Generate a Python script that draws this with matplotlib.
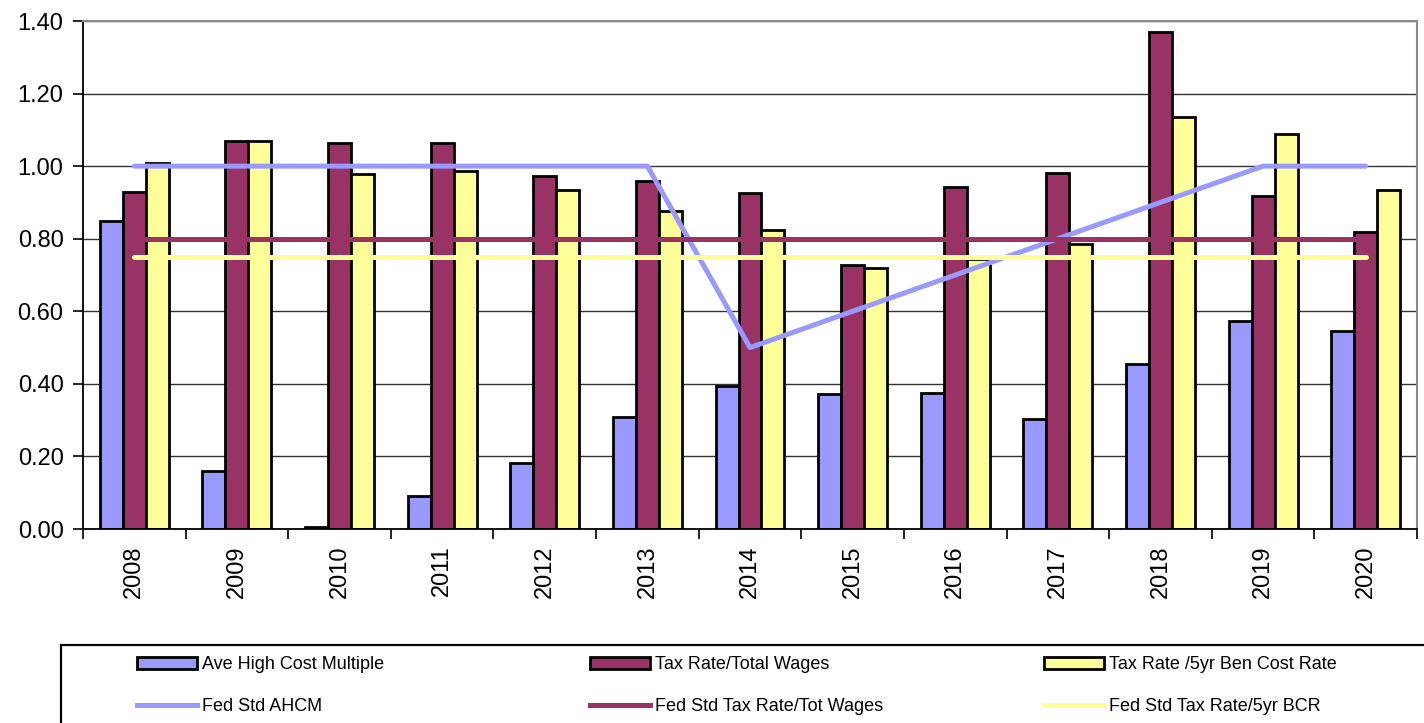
import matplotlib
matplotlib.use("Agg")
import matplotlib.pyplot as plt
import numpy as np
from matplotlib.patches import Rectangle, Patch
from matplotlib.lines import Line2D

years = ["2008", "2009", "2010", "2011", "2012", "2013", "2014",
         "2015", "2016", "2017", "2018", "2019", "2020"]
ahcm = [0.85, 0.16, 0.005, 0.092, 0.182, 0.309, 0.394, 0.372, 0.376, 0.303, 0.455, 0.573, 0.546]
tax_total_wages = [0.929, 1.068, 1.064, 1.064, 0.973, 0.959, 0.926, 0.727, 0.942, 0.981, 1.37, 0.918, 0.818]
tax_5yr_bcr = [1.01, 1.068, 0.977, 0.987, 0.934, 0.876, 0.824, 0.719, 0.744, 0.785, 1.135, 1.088, 0.934]
fed_ahcm = [1.0, 1.0, 1.0, 1.0, 1.0, 1.0, 0.5, 0.6, 0.7, 0.8, 0.9, 1.0, 1.0]
fed_tax_wages = [0.8] * 13
fed_tax_bcr = [0.75] * 13

bar_labels = ["Ave High Cost Multiple", "Tax Rate/Total Wages", "Tax Rate /5yr Ben Cost Rate"]
line_labels = ["Fed Std AHCM", "Fed Std Tax Rate/Tot Wages", "Fed Std Tax Rate/5yr BCR"]
c_blue = "#9999FF"
c_maroon = "#993366"
c_yellow = "#FFFF99"

W, H = 1424, 723
fig = plt.figure(figsize=(W / 100, H / 100), dpi=100)
ax = fig.add_axes([83 / W, 1 - 529 / H, (1417 - 83) / W, (529 - 21) / H])

x = np.arange(len(years))
bw = 0.224
for off, vals, col in zip([-bw, 0, bw], [ahcm, tax_total_wages, tax_5yr_bcr],
                          [c_blue, c_maroon, c_yellow]):
    ax.bar(x + off, vals, width=bw, color=col, edgecolor="black", linewidth=2.0, zorder=2)

for vals, col in zip([fed_ahcm, fed_tax_wages, fed_tax_bcr], [c_blue, c_maroon, c_yellow]):
    ax.plot(x, vals, color=col, linewidth=3.6, zorder=3, solid_capstyle="round")

ax.set_xlim(-0.5, len(years) - 0.5)
ax.set_ylim(0, 1.4)
ax.set_yticks(np.arange(0, 1.41, 0.2))
ax.set_yticklabels([f"{v:.2f}" for v in np.arange(0, 1.41, 0.2)],
                   fontsize=17, family=["Liberation Sans", "DejaVu Sans"])
ax.yaxis.grid(True, color="#333333", linewidth=1.0, zorder=0)
ax.set_axisbelow(True)

ax.set_xticks(np.arange(-0.5, len(years), 1.0))
ax.set_xticklabels([])
ax.set_xticks(x, minor=True)
ax.set_xticklabels(years, minor=True, rotation=90, fontsize=17,
                   family=["Liberation Sans", "DejaVu Sans"])
ax.tick_params(axis="x", which="major", length=7, width=1.2, direction="out")
ax.tick_params(axis="x", which="minor", length=0, pad=12)
ax.tick_params(axis="y", length=7, width=1.2, direction="out", pad=7)

for s in ["left", "bottom"]:
    ax.spines[s].set_color("black")
    ax.spines[s].set_linewidth(1.3)
for s in ["top", "right"]:
    ax.spines[s].set_color("#888888")
    ax.spines[s].set_linewidth(1.5)

# legend frame
fig.patches.append(Rectangle((61 / W, -0.05), (W + 20 - 61) / W, (1 - 645 / H) + 0.05,
                             transform=fig.transFigure, fill=False,
                             edgecolor="black", linewidth=1.6))

leg_font = {"family": ["Liberation Sans", "DejaVu Sans"], "size": 13}
col_x = [137, 590, 1044]
bar_cols = [c_blue, c_maroon, c_yellow]
for i in range(3):
    handles = [Patch(facecolor=bar_cols[i], edgecolor="black", linewidth=2.0),
               Line2D([0], [0], color=bar_cols[i], linewidth=3.6)]
    lg = fig.legend(handles, [bar_labels[i], line_labels[i]],
                    loc="center left", bbox_to_anchor=(col_x[i] / W, 1 - 685.5 / H),
                    frameon=False, prop=leg_font, handlelength=3.3, handleheight=0.65,
                    handletextpad=0.3, labelspacing=1.35, borderpad=0, borderaxespad=0)

fig.savefig("out.png", dpi=100)
